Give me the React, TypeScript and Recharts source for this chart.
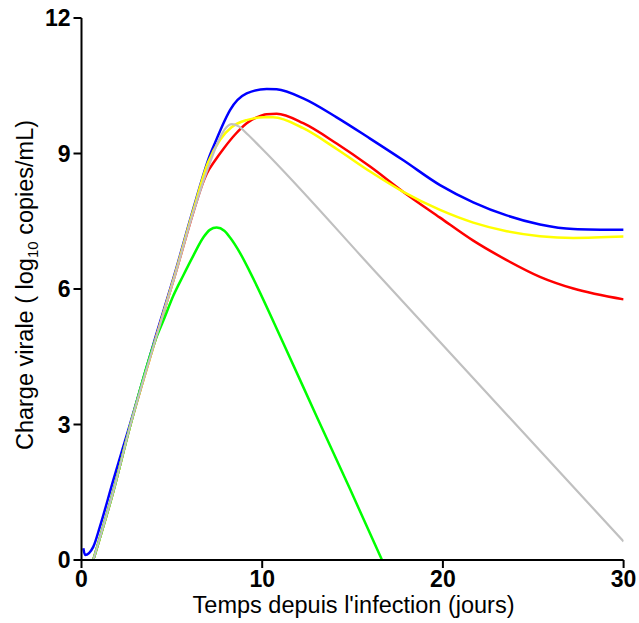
import React from 'react';
import { LineChart, Line, XAxis, YAxis, Label } from 'recharts';

const xTicks = [0, 10, 20, 30];
const yTicks = [0, 3, 6, 9, 12];

const rise = [
  { x: 0.65, y: 0 }, { x: 1.76, y: 1.52 }, { x: 2.68, y: 2.95 }, { x: 4.07, y: 4.85 },
];

const blue = [
  { x: 0.1, y: 0.26 }, { x: 0.2, y: 0.11 }, { x: 0.65, y: 0.29 }, { x: 1.02, y: 0.74 }, { x: 1.76, y: 1.77 },
  { x: 2.68, y: 3.0 }, { x: 4.07, y: 4.9 }, { x: 5.17, y: 6.35 }, { x: 6.19, y: 7.78 }, { x: 7.11, y: 8.97 },
  { x: 7.48, y: 9.32 }, { x: 7.8, y: 9.62 }, { x: 8.22, y: 9.96 }, { x: 9.14, y: 10.33 }, { x: 10.25, y: 10.43 },
  { x: 10.8, y: 10.42 }, { x: 12.27, y: 10.22 }, { x: 14.12, y: 9.8 }, { x: 15.97, y: 9.33 }, { x: 17.81, y: 8.85 },
  { x: 19.84, y: 8.3 }, { x: 21.68, y: 7.92 }, { x: 23.53, y: 7.63 }, { x: 25.37, y: 7.43 }, { x: 27.22, y: 7.33 },
  { x: 30, y: 7.31 },
];

const red = [
  ...rise, { x: 5.17, y: 6.3 }, { x: 6.19, y: 7.7 }, { x: 6.6, y: 8.22 }, { x: 6.93, y: 8.55 }, { x: 7.4, y: 8.85 },
  { x: 7.85, y: 9.1 }, { x: 8.5, y: 9.42 }, { x: 9.14, y: 9.67 }, { x: 9.7, y: 9.8 }, { x: 10.25, y: 9.87 },
  { x: 10.8, y: 9.88 }, { x: 12.27, y: 9.67 }, { x: 14.12, y: 9.22 }, { x: 15.97, y: 8.71 }, { x: 17.81, y: 8.15 },
  { x: 19.84, y: 7.58 }, { x: 21.68, y: 7.07 }, { x: 23.53, y: 6.64 }, { x: 25.37, y: 6.27 }, { x: 27.22, y: 6.01 },
  { x: 30, y: 5.77 },
];

const yellow = [
  ...rise, { x: 5.17, y: 6.32 }, { x: 6.19, y: 7.75 }, { x: 7.0, y: 8.8 }, { x: 7.66, y: 9.3 }, { x: 8.3, y: 9.58 },
  { x: 9.14, y: 9.74 }, { x: 10.1, y: 9.8 }, { x: 10.6, y: 9.8 }, { x: 12.27, y: 9.56 }, { x: 14.12, y: 9.1 },
  { x: 15.97, y: 8.6 }, { x: 17.81, y: 8.15 }, { x: 19.84, y: 7.75 }, { x: 21.68, y: 7.47 }, { x: 23.53, y: 7.28 },
  { x: 25.37, y: 7.17 }, { x: 27.22, y: 7.13 }, { x: 30, y: 7.16 },
];

const green = [
  ...rise, { x: 4.53, y: 5.3 }, { x: 5.08, y: 5.85 }, { x: 5.63, y: 6.3 }, { x: 6.19, y: 6.74 }, { x: 6.74, y: 7.14 },
  { x: 7.1, y: 7.31 }, { x: 7.48, y: 7.36 }, { x: 7.9, y: 7.29 }, { x: 8.22, y: 7.14 }, { x: 8.77, y: 6.8 },
  { x: 9.32, y: 6.38 }, { x: 11.17, y: 4.8 }, { x: 13.02, y: 3.17 }, { x: 14.86, y: 1.57 }, { x: 16.63, y: 0 },
];

const gray = [
  ...rise, { x: 5.17, y: 6.3 }, { x: 6.19, y: 7.7 }, { x: 7.11, y: 8.8 }, { x: 7.66, y: 9.35 }, { x: 8.0, y: 9.57 },
  { x: 8.31, y: 9.65 }, { x: 8.7, y: 9.6 }, { x: 9.2, y: 9.42 }, { x: 9.88, y: 9.15 }, { x: 16.52, y: 6.27 },
  { x: 30, y: 0.41 },
];

const FONT = '"Liberation Sans", Arial, sans-serif';

const YLabel = (props: any) => {
  const vb = props.viewBox || {};
  const cx = 33;
  const cy = vb.y + vb.height / 2 - 4;
  return (
    <text
      x={cx}
      y={cy}
      transform={`rotate(-90, ${cx}, ${cy})`}
      textAnchor="middle"
      fontSize={23.5}
      fontFamily={FONT}
      fill="#000"
    >
      <tspan>Charge virale ( log</tspan>
      <tspan fontSize={15} dy={5}>10</tspan>
      <tspan dy={-5}> copies/mL)</tspan>
    </text>
  );
};

const XLabel = (props: any) => {
  const vb = props.viewBox || {};
  return (
    <text
      x={vb.x + vb.width / 2 + 1}
      y={613}
      textAnchor="middle"
      fontSize={23.5}
      fontFamily={FONT}
      fill="#000"
    >
      Temps depuis l'infection (jours)
    </text>
  );
};

export default function App() {
  const tickStyle = { fontSize: 23, fontWeight: 'bold', fontFamily: FONT, fill: '#000' };
  return (
    <div style={{ fontFamily: FONT, width: 639, height: 623, overflow: 'hidden' }}>
      <style>{'body{margin:0;overflow:hidden;}'}</style>
      <LineChart
        width={639}
        height={623}
        margin={{ top: 18, right: 15.4, left: 0, bottom: 0 }}
      >
        <XAxis
          type="number"
          dataKey="x"
          domain={[0, 30]}
          ticks={xTicks}
          allowDataOverflow
          height={63}
          tickSize={8}
          tickMargin={3}
          axisLine={{ stroke: '#000', strokeWidth: 2 }}
          tickLine={{ stroke: '#000', strokeWidth: 2 }}
          tick={tickStyle}
        >
          <Label content={<XLabel />} />
        </XAxis>
        <YAxis
          type="number"
          dataKey="y"
          domain={[0, 12]}
          ticks={yTicks}
          allowDataOverflow
          width={81.5}
          tickSize={8}
          tickMargin={3}
          axisLine={{ stroke: '#000', strokeWidth: 2 }}
          tickLine={{ stroke: '#000', strokeWidth: 2 }}
          tick={tickStyle}
        >
          <Label content={<YLabel />} />
        </YAxis>
        <Line data={blue} dataKey="y" type="monotone" stroke="#0000ff" strokeWidth={2.5} dot={false} isAnimationActive={false} />
        <Line data={red} dataKey="y" type="monotone" stroke="#ff0000" strokeWidth={2.5} dot={false} isAnimationActive={false} />
        <Line data={yellow} dataKey="y" type="monotone" stroke="#ffff00" strokeWidth={2.5} dot={false} isAnimationActive={false} />
        <Line data={green} dataKey="y" type="monotone" stroke="#00ff00" strokeWidth={2.5} dot={false} isAnimationActive={false} />
        <Line data={gray} dataKey="y" type="monotone" stroke="#c0c0c0" strokeWidth={2.2} dot={false} isAnimationActive={false} />
      </LineChart>
    </div>
  );
}
